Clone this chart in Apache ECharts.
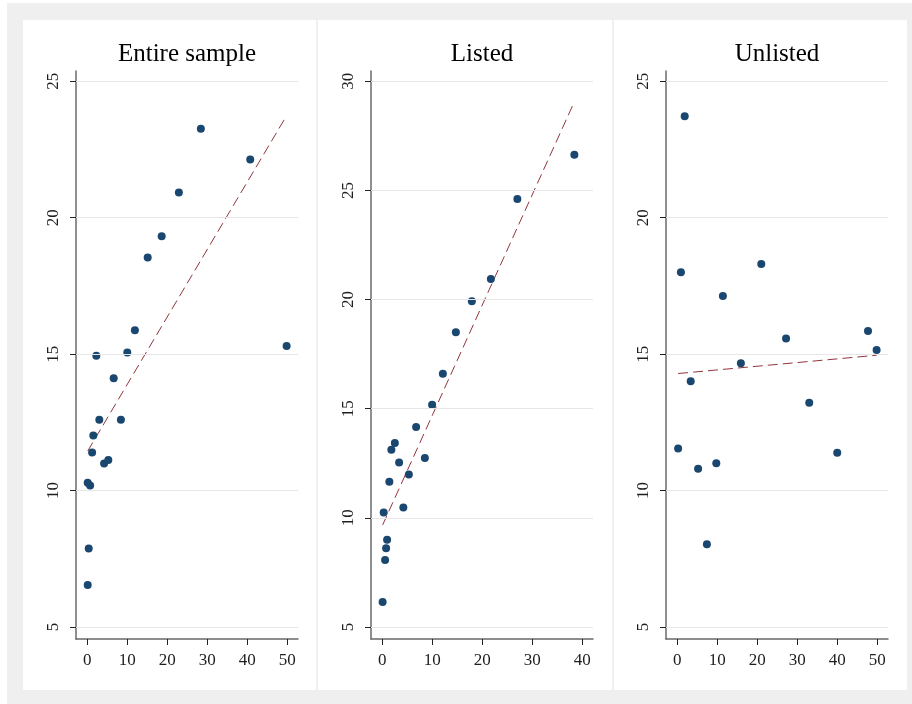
<!DOCTYPE html>
<html>
<head>
<meta charset="utf-8">
<script src="https://cdn.jsdelivr.net/npm/echarts@6/dist/echarts.min.js"></script>
<style>
  html, body { margin: 0; padding: 0; background: #ffffff; }
  #bg { position: absolute; left: 7px; top: 3px; width: 905px; height: 701px; background: #efefef; }
  .panel { position: absolute; top: 20px; height: 670px; background: #ffffff; }
  #chart { position: absolute; left: 0; top: 0; width: 912px; height: 704px; }
</style>
</head>
<body>
<div id="bg"></div>
<div class="panel" style="left:23px;width:293px;"></div>
<div class="panel" style="left:318px;width:294px;"></div>
<div class="panel" style="left:614px;width:293px;"></div>
<div id="chart"></div>
<script>
// ---- data ----
const panelTitles = ['Entire sample', 'Listed', 'Unlisted'];

const entireX = [28.4, 40.75, 22.9, 18.6, 15.1, 11.9, 49.85, 2.25, 10.0, 6.6, 3.0, 8.4, 1.5, 1.2, 4.2, 5.25, 0.1, 0.7, 0.35, 0.1];
const entireY = [23.26, 22.13, 20.92, 19.32, 18.54, 15.88, 15.3, 14.94, 15.06, 14.12, 12.6, 12.6, 12.02, 11.4, 10.99, 11.12, 10.29, 10.19, 7.88, 6.54];

const listedX = [38.4, 27.0, 21.7, 17.9, 14.7, 12.1, 9.95, 6.75, 2.5, 1.8, 3.35, 8.5, 5.3, 1.4, 4.2, 0.27, 0.95, 0.75, 0.55, 0.05];
const listedY = [26.63, 24.61, 20.94, 19.92, 18.5, 16.6, 15.18, 14.16, 13.43, 13.12, 12.54, 12.74, 11.99, 11.65, 10.47, 10.24, 9.0, 8.61, 8.07, 6.15];

const unlistedX = [1.85, 0.9, 21.0, 11.4, 27.2, 47.7, 49.85, 15.9, 3.35, 33.0, 0.2, 40.0, 5.2, 9.75, 7.4];
const unlistedY = [23.72, 18.0, 18.3, 17.13, 15.57, 15.85, 15.15, 14.67, 14.01, 13.22, 11.54, 11.39, 10.8, 11.0, 8.03];

// fitted line end points (x, y)
const fitEntire = [[0.1, 11.45], [49.85, 23.74]];
const fitListed = [[0.05, 9.67], [38.4, 29.06]];
const fitUnlisted = [[0.2, 14.29], [49.85, 14.96]];

const xTicks1 = [0, 10, 20, 30, 40, 50];
const xTicks2 = [0, 10, 20, 30, 40];
const xTicks3 = [0, 10, 20, 30, 40, 50];
const yTicks1 = [5, 10, 15, 20, 25];
const yTicks2 = [5, 10, 15, 20, 25, 30];
const yTicks3 = [5, 10, 15, 20, 25];

// ---- build chart ----
const zip = (xs, ys) => xs.map((x, i) => [x, ys[i]]);
const fontFam = '"Liberation Serif", "Times New Roman", serif';
const axisColor = '#6a6a6a';
const labelColor = '#1e1e1e';

const panels = [
  { left: 76, xr: [-2.83, 52.7], yr: [4.562, 25.376], xt: xTicks1, yt: yTicks1, pts: zip(entireX, entireY), fit: fitEntire },
  { left: 371, xr: [-2.27, 42.13], yr: [4.45, 30.47], xt: xTicks2, yt: yTicks2, pts: zip(listedX, listedY), fit: fitListed },
  { left: 666, xr: [-2.83, 52.7], yr: [4.562, 25.376], xt: xTicks3, yt: yTicks3, pts: zip(unlistedX, unlistedY), fit: fitUnlisted }
];

const grid = [], xAxis = [], yAxis = [], series = [], title = [];
panels.forEach((p, i) => {
  grid.push({ left: p.left, top: 71, width: 222, height: 568, containLabel: false });
  xAxis.push({
    type: 'value', gridIndex: i, min: p.xr[0], max: p.xr[1],
    axisLine: { show: true, onZero: false, lineStyle: { color: axisColor, width: 1.5 } },
    axisTick: { show: true, length: 6, customValues: p.xt, lineStyle: { color: '#222', width: 1 } },
    axisLabel: { show: true, customValues: p.xt, margin: 13, color: labelColor, fontFamily: fontFam, fontSize: 17 },
    splitLine: { show: false }
  });
  yAxis.push({
    type: 'value', gridIndex: i, min: p.yr[0], max: p.yr[1],
    axisLine: { show: true, onZero: false, lineStyle: { color: axisColor, width: 1.5 } },
    axisTick: { show: true, length: 6, customValues: p.yt, lineStyle: { color: '#222', width: 1 } },
    axisLabel: { show: true, customValues: p.yt, rotate: 90, margin: 14, color: labelColor, fontFamily: fontFam, fontSize: 17 },
    splitLine: { show: false }
  });
  series.push({
    type: 'line', xAxisIndex: i, yAxisIndex: i, data: [], silent: true, symbol: 'none',
    markLine: {
      silent: true, symbol: 'none', label: { show: false },
      lineStyle: { color: '#e6e6e6', width: 1, type: 'solid' },
      data: p.yt.map(v => ({ yAxis: v }))
    }
  });
  series.push({
    type: 'scatter', xAxisIndex: i, yAxisIndex: i, data: p.pts,
    symbol: 'circle', symbolSize: 8,
    itemStyle: { color: '#1a476f', opacity: 1 }, z: 4
  });
  series.push({
    type: 'line', xAxisIndex: i, yAxisIndex: i, data: p.fit, symbol: 'none',
    lineStyle: { color: '#90353b', width: 1, type: [10, 5] }, z: 3
  });
  title.push({
    text: panelTitles[i], left: p.left + 111, top: 42, textAlign: 'center', padding: 0,
    textStyle: { fontFamily: fontFam, fontSize: 25, fontWeight: 'normal', color: '#000' }
  });
});

const chart = echarts.init(document.getElementById('chart'), null, { renderer: 'canvas' });
chart.setOption({
  backgroundColor: 'transparent',
  animation: false,
  title, grid, xAxis, yAxis, series
});
</script>
</body>
</html>
